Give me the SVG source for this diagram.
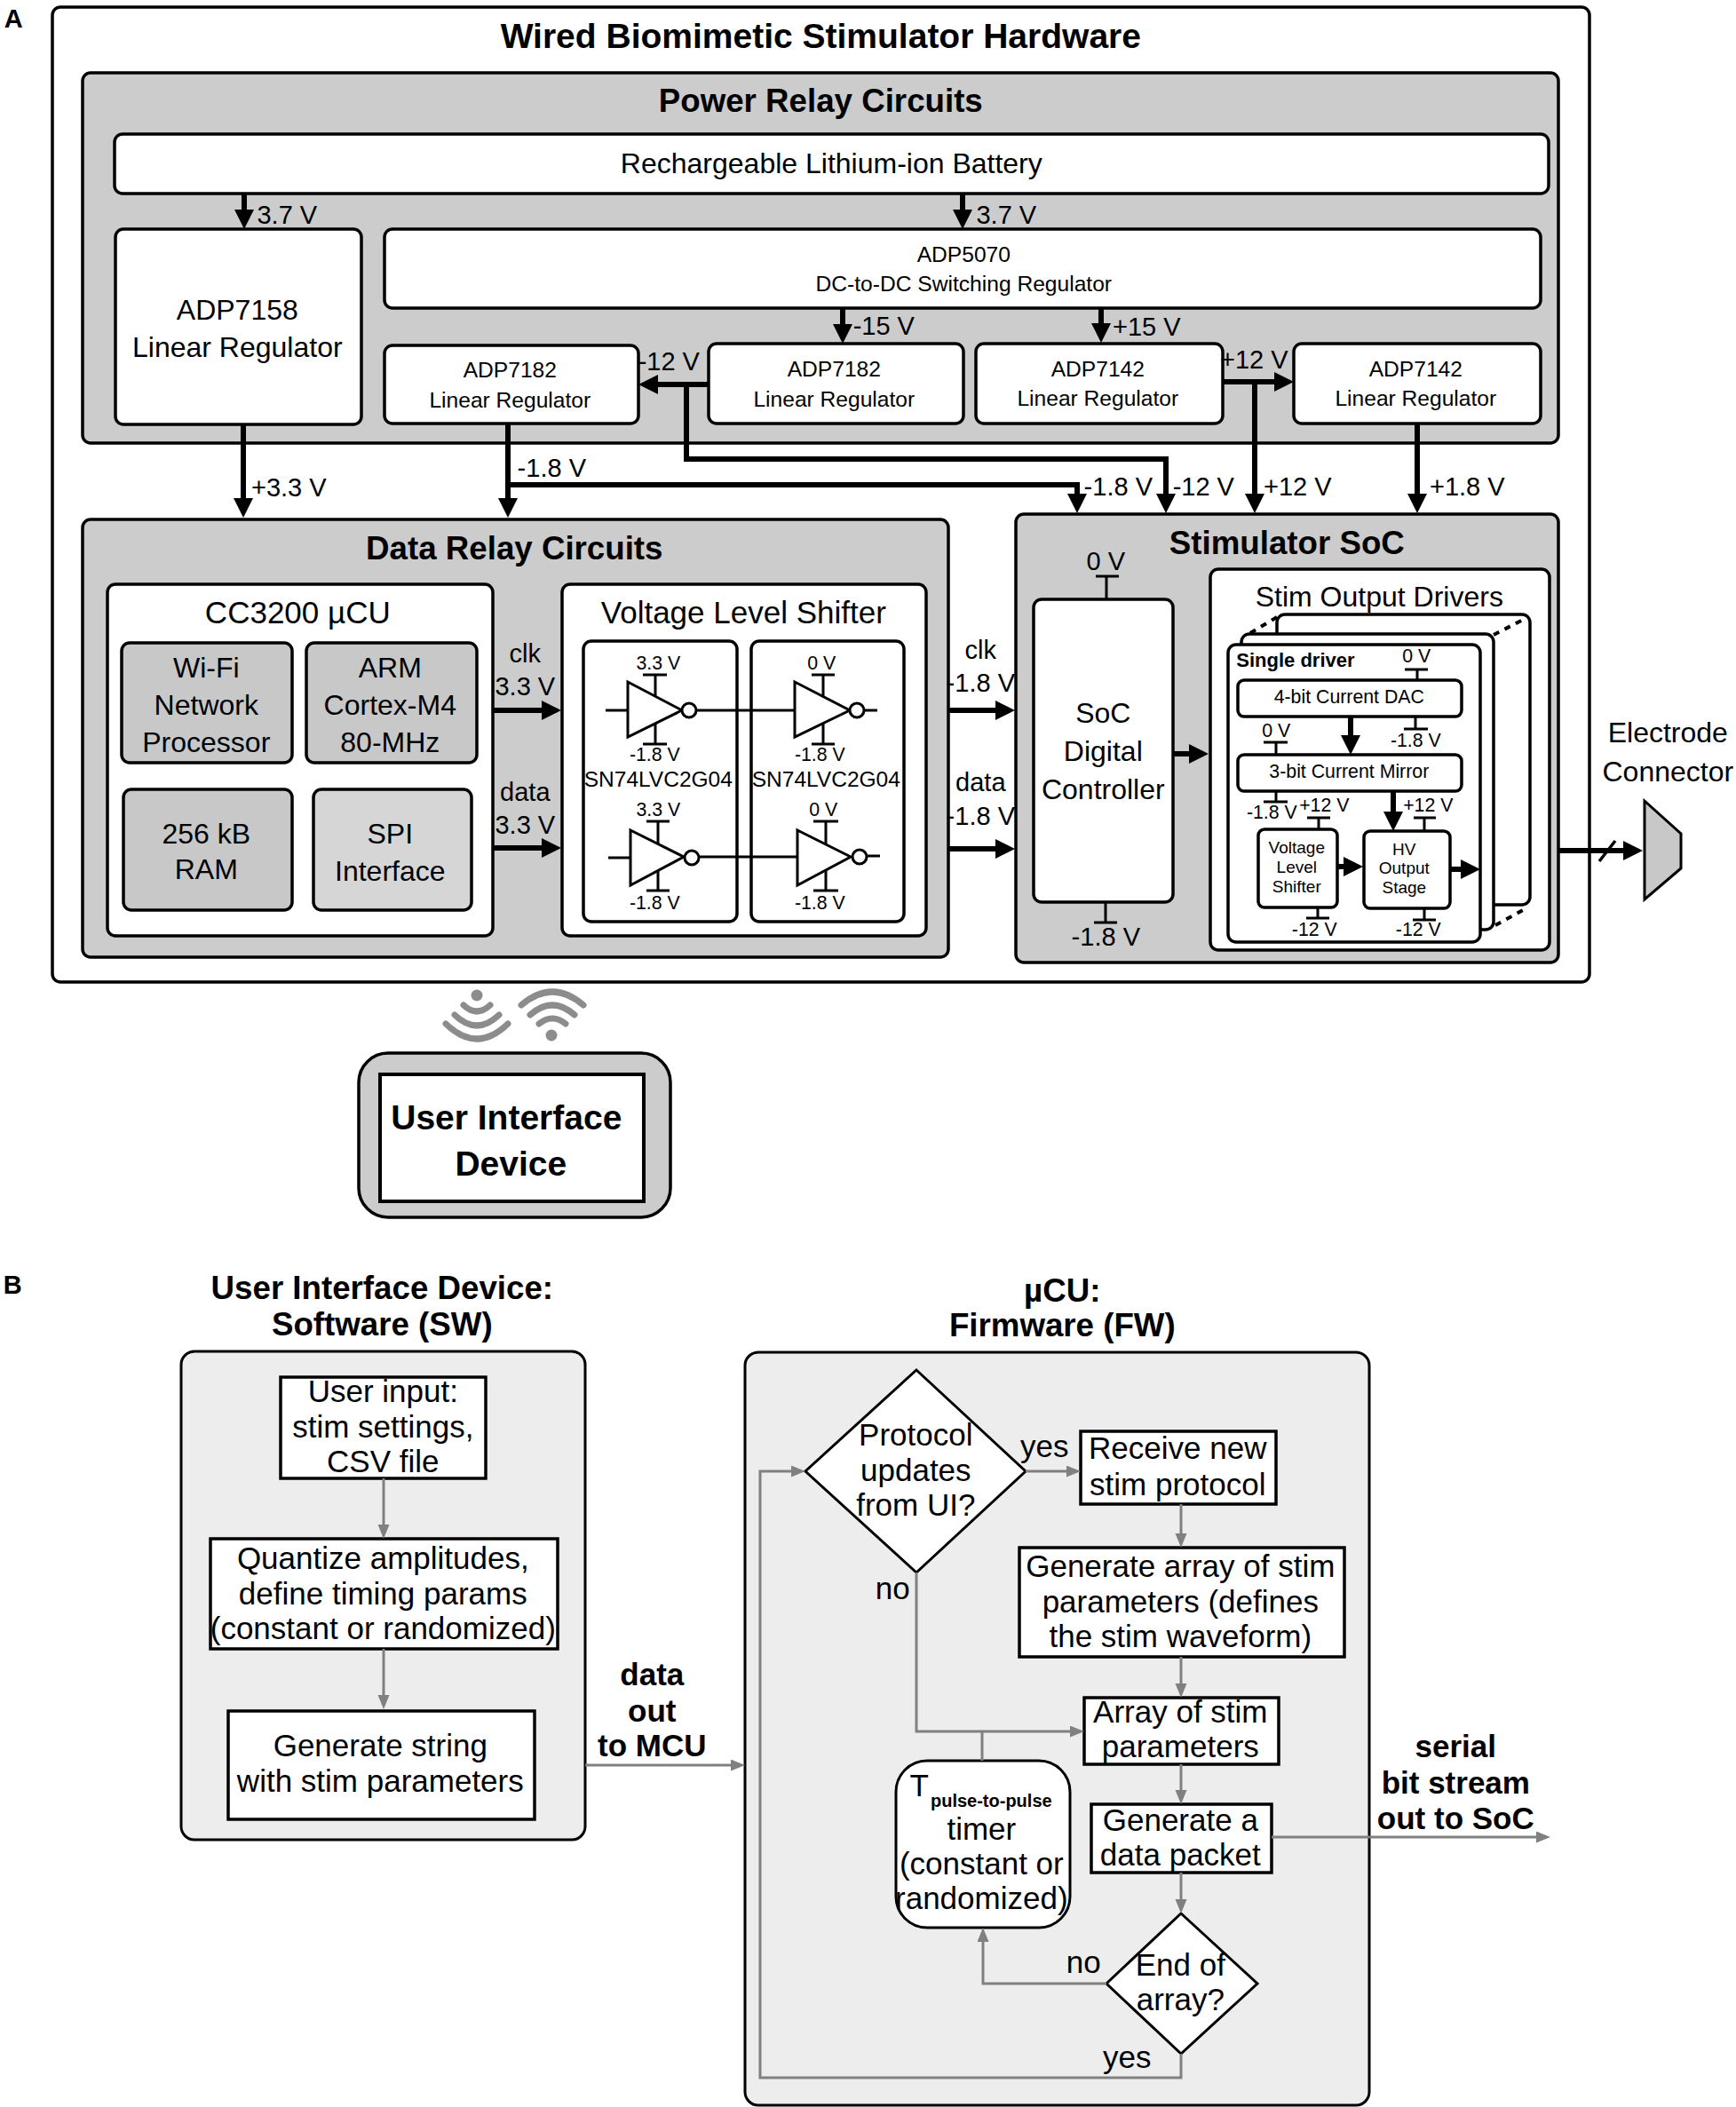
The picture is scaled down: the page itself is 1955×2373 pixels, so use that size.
<svg xmlns="http://www.w3.org/2000/svg" width="1955" height="2373" viewBox="0 0 1955 2373">
<style>
text{font-family:"Liberation Sans",Arial,sans-serif;fill:#000;text-anchor:middle;dominant-baseline:central;transform:translate(-0.7px,-1.5px)}
.b{font-weight:bold}
.box{fill:#fff;stroke:#000;stroke-width:3.5}
.panel{fill:#ccc;stroke:#000;stroke-width:3.5}
.chip{fill:#c8c8c8;stroke:#000;stroke-width:3.5}
.flow{fill:#ededed;stroke:#000;stroke-width:3}
.step{fill:#fff;stroke:#000;stroke-width:3.5}
.pin{fill:none;stroke:#000;stroke-width:3}
.th{fill:none;stroke:#000;stroke-width:6;marker-end:url(#ah)}
.tl{fill:none;stroke:#000;stroke-width:6}
.gr{fill:none;stroke:#808080;stroke-width:3;marker-end:url(#gh)}
.gl{fill:none;stroke:#808080;stroke-width:3}
.wf{fill:none;stroke:#8c8c8c;stroke-width:7;stroke-linecap:round}
.dot{fill:none;stroke:#000;stroke-width:4;stroke-dasharray:7 7}
.f19{font-size:19px}.f21{font-size:21.3px}.f24{font-size:24.5px}.f25{font-size:24.6px}.f29{font-size:29px}.f32{font-size:32px}.f35{font-size:35px}.f37{font-size:36.7px}
</style>
<defs>
<marker id="ah" markerUnits="userSpaceOnUse" markerWidth="24" markerHeight="22" refX="8" refY="11" orient="auto"><path d="M0,0 L22,11 L0,22 z" fill="#000"/></marker>
<marker id="gh" markerUnits="userSpaceOnUse" markerWidth="18" markerHeight="14" refX="8" refY="6.5" orient="auto"><path d="M0,0 L16,6.5 L0,13 z" fill="#808080"/></marker>
</defs>
<rect width="1955" height="2373" fill="#fff"/>
<text class="b f29" x="16" y="22">A</text>
<text class="b f29" x="15" y="1448">B</text>

<g id="hardware"><rect x="59" y="8" width="1731" height="1098" rx="9" fill="#fff" stroke="#000" stroke-width="3.5"/><text class="b" font-size="39" x="925" y="42">Wired Biomimetic Stimulator Hardware</text></g>

<g id="power-relay"><rect class="panel" x="93" y="82" width="1662" height="417" rx="9"/><text class="b f37" x="925" y="115">Power Relay Circuits</text></g>
<g id="battery"><rect class="box" x="129" y="151" width="1615" height="67" rx="9"/><text class="f32" x="937" y="185">Rechargeable Lithium-ion Battery</text></g>
<g id="adp7158"><rect class="box" x="130" y="258" width="277" height="220" rx="9"/><text class="f32" x="268" y="350">ADP7158</text><text class="f32" x="268" y="392">Linear Regulator</text></g>
<g id="adp5070"><rect class="box" x="433" y="258" width="1302" height="89" rx="9"/><text class="f25" x="1086" y="288">ADP5070</text><text class="f25" x="1086" y="321">DC-to-DC Switching Regulator</text></g>
<g id="adp7182-a"><rect class="box" x="433" y="389" width="286" height="88" rx="9"/><text class="f25" x="575" y="418">ADP7182</text><text class="f25" x="575" y="452">Linear Regulator</text></g>
<g id="adp7182-b"><rect class="box" x="798" y="387" width="287" height="90" rx="9"/><text class="f25" x="940" y="417">ADP7182</text><text class="f25" x="940" y="451">Linear Regulator</text></g>
<g id="adp7142-a"><rect class="box" x="1099" y="387" width="278" height="90" rx="9"/><text class="f25" x="1237" y="417">ADP7142</text><text class="f25" x="1237" y="450">Linear Regulator</text></g>
<g id="adp7142-b"><rect class="box" x="1457" y="387" width="278" height="90" rx="9"/><text class="f25" x="1595" y="417">ADP7142</text><text class="f25" x="1595" y="450">Linear Regulator</text></g>

<g id="data-relay"><rect class="panel" x="93" y="585" width="975" height="493" rx="9"/><text class="b f37" x="580" y="619">Data Relay Circuits</text></g>
<g id="cc3200"><rect class="box" x="121" y="658" width="434" height="396" rx="9"/><text font-size="35" x="336" y="691">CC3200 µCU</text></g>
<g id="wifi-proc"><rect class="chip" x="137" y="724" width="192" height="135" rx="9"/><text class="f32" x="233" y="753">Wi-Fi</text><text class="f32" x="233" y="795">Network</text><text class="f32" x="233" y="837">Processor</text></g>
<g id="arm"><rect class="chip" x="345" y="724" width="192" height="135" rx="9"/><text class="f32" x="440" y="753">ARM</text><text class="f32" x="440" y="795">Cortex-M4</text><text class="f32" x="440" y="837">80-MHz</text></g>
<g id="ram"><rect class="chip" x="139" y="889" width="190" height="136" rx="9"/><text class="f32" x="233" y="940">256 kB</text><text class="f32" x="233" y="980">RAM</text></g>
<g id="spi"><rect x="353" y="889" width="178" height="136" rx="9" fill="#d6d6d6" stroke="#000" stroke-width="3.5"/><text class="f32" x="440" y="940">SPI</text><text class="f32" x="440" y="982">Interface</text></g>
<g id="level-shifter"><rect class="box" x="633" y="658" width="410" height="396" rx="9"/><text font-size="35" x="838" y="691">Voltage Level Shifter</text></g>
<g id="shifter-left"><rect class="box" x="657" y="722" width="173" height="316" rx="9"/><text class="f21" x="742" y="748">3.3 V</text><text class="f21" x="738" y="851">-1.8 V</text><text class="f24" x="742" y="879">SN74LVC2G04</text><text class="f21" x="742" y="913">3.3 V</text><text class="f21" x="738" y="1018">-1.8 V</text></g>
<g id="shifter-right"><rect class="box" x="846" y="722" width="172" height="316" rx="9"/><text class="f21" x="926" y="748">0 V</text><text class="f21" x="924" y="851">-1.8 V</text><text class="f24" x="931" y="879">SN74LVC2G04</text><text class="f21" x="928" y="913">0 V</text><text class="f21" x="924" y="1018">-1.8 V</text></g>
<g id="inverters">
<path class="pin" d="M724,760H751M738,760V837M724,838H751M914,760H940M927,760V837M914,838H940M682,800H707M785,800H895M973,800H988"/>
<polygon class="pin" style="fill:#fff" points="707,768 768,800 707,830"/><circle class="pin" style="fill:#fff" cx="776" cy="800" r="8"/>
<polygon class="pin" style="fill:#fff" points="895,768 957,800 895,830"/><circle class="pin" style="fill:#fff" cx="965" cy="800" r="8"/>
<path class="pin" d="M728,925H754M741,925V1002M728,1003H754M916,925H944M930,925V1002M916,1003H944M685,966H710M788,965H898M977,964H991"/>
<polygon class="pin" style="fill:#fff" points="710,935 770,965 710,997"/><circle class="pin" style="fill:#fff" cx="779" cy="966" r="8"/>
<polygon class="pin" style="fill:#fff" points="898,935 958,965 898,997"/><circle class="pin" style="fill:#fff" cx="968" cy="965" r="8"/>
</g>

<g id="stimulator-soc"><rect class="panel" x="1144" y="579" width="611" height="505" rx="9"/><text class="b f37" x="1450" y="613">Stimulator SoC</text></g>
<g id="soc-controller"><rect class="box" x="1164" y="675" width="157" height="341" rx="9"/><text class="f32" x="1243" y="804">SoC</text><text class="f32" x="1243" y="847">Digital</text><text class="f32" x="1243" y="890">Controller</text>
<path class="pin" d="M1234,649H1260M1246,649V675M1232,1039H1258M1245,1016V1039"/><text class="f29" x="1246" y="633">0 V</text><text class="f29" x="1246" y="1056">-1.8 V</text></g>
<g id="output-drivers"><rect class="box" x="1363" y="641" width="382" height="429" rx="9"/><text class="f32" x="1554" y="673">Stim Output Drivers</text>
<rect class="box" x="1438" y="692" width="285" height="327" rx="9"/><rect class="box" x="1398" y="714" width="284" height="333" rx="9"/><rect class="box" x="1383" y="726" width="284" height="335" rx="9"/>
<path class="dot" d="M1408,713L1438,695M1682,715L1717,697M1684,1042L1717,1024"/></g>
<g id="single-driver"><text class="b" font-size="22" x="1393" y="745" style="text-anchor:start">Single driver</text>
<path class="pin" d="M1582,754H1608M1596,754V766M1581,821H1608M1594,807V821M1423,836H1450M1437,836V850M1423,903H1450M1437,891V903M1472,921H1498M1485,921V934M1592,921H1617M1604,921V936M1471,1034H1497M1484,1022V1034M1591,1036H1617M1604,1023V1036"/>
<text class="f21" x="1596" y="740">0 V</text><text class="f21" x="1595" y="835">-1.8 V</text><text class="f21" x="1438" y="824">0 V</text><text class="f21" x="1433" y="916">-1.8 V</text><text class="f21" x="1492" y="908">+12 V</text><text class="f21" x="1609" y="908">+12 V</text><text class="f21" x="1481" y="1048">-12 V</text><text class="f21" x="1598" y="1048">-12 V</text></g>
<g id="current-dac"><rect class="box" x="1394" y="766" width="252" height="41" rx="7"/><text class="f21" x="1520" y="786">4-bit Current DAC</text></g>
<g id="current-mirror"><rect class="box" x="1394" y="850" width="252" height="41" rx="7"/><text class="f21" x="1520" y="870">3-bit Current Mirror</text></g>
<g id="driver-shifter"><rect class="box" x="1417" y="934" width="89" height="88" rx="7"/><text class="f19" x="1461" y="956">Voltage</text><text class="f19" x="1461" y="978">Level</text><text class="f19" x="1461" y="1000">Shifter</text></g>
<g id="hv-stage"><rect class="box" x="1536" y="936" width="97" height="87" rx="7"/><text class="f19" x="1582" y="958">HV</text><text class="f19" x="1582" y="979">Output</text><text class="f19" x="1582" y="1001">Stage</text></g>
<g id="electrode-connector"><polygon points="1852,902 1893,939 1893,978 1852,1013" fill="#c8c8c8" stroke="#000" stroke-width="3"/><text class="f32" x="1879" y="826">Electrode</text><text class="f32" x="1879" y="870">Connector</text></g>

<g id="ui-icons"><circle cx="537" cy="1121" r="6.5" fill="#8c8c8c"/><circle cx="621" cy="1166" r="6.5" fill="#8c8c8c"/>
<path class="wf" d="M522,1132Q537,1146 552,1132M512,1143Q537,1167 562,1143M502,1153Q537,1187 572,1153M607,1153Q622,1141 637,1153M597,1143Q622,1121 647,1143M587,1132Q622,1102 657,1132"/></g>
<g id="ui-device"><rect x="404" y="1186" width="351" height="185" rx="33" fill="#ccc" stroke="#000" stroke-width="3.5"/><rect x="428" y="1210" width="297" height="143" fill="#fff" stroke="#000" stroke-width="4"/><text class="b" font-size="39" x="571" y="1260">User Interface</text><text class="b" font-size="39" x="576" y="1312">Device</text></g>

<g id="sw-panel"><text class="b f37" x="431" y="1452">User Interface Device:</text><text class="b f37" x="431" y="1493">Software (SW)</text><rect class="flow" x="204" y="1522" width="455" height="550" rx="15"/></g>
<g id="sw-input"><rect class="step" x="316" y="1551" width="231" height="114"/><text class="f35" x="432" y="1568">User input:</text><text class="f35" x="432" y="1608">stim settings,</text><text class="f35" x="432" y="1647">CSV file</text></g>
<g id="sw-quantize"><rect class="step" x="237" y="1733" width="391" height="124"/><text class="f35" x="432" y="1756">Quantize amplitudes,</text><text class="f35" x="432" y="1796">define timing params</text><text class="f35" x="432" y="1835">(constant or randomized)</text></g>
<g id="sw-string"><rect class="step" x="257" y="1927" width="345" height="122"/><text class="f35" x="429" y="1967">Generate string</text><text class="f35" x="429" y="2007">with stim parameters</text></g>

<g id="fw-panel"><text class="b f37" x="1197" y="1455">µCU:</text><text class="b f37" x="1197" y="1494">Firmware (FW)</text><rect class="flow" x="839" y="1523" width="703" height="848" rx="15"/></g>
<g id="fw-protocol"><polygon class="step" style="stroke-width:3" points="1032,1543 1155,1657 1032,1771 907,1657"/><text class="f35" x="1032" y="1617">Protocol</text><text class="f35" x="1032" y="1657">updates</text><text class="f35" x="1032" y="1696">from UI?</text></g>
<g id="fw-receive"><rect class="step" x="1217" y="1612" width="220" height="82"/><text class="f35" x="1327" y="1632">Receive new</text><text class="f35" x="1327" y="1673">stim protocol</text></g>
<g id="fw-generate-array"><rect class="step" x="1148" y="1743" width="366" height="123"/><text class="f35" x="1330" y="1765">Generate array of stim</text><text class="f35" x="1330" y="1805">parameters (defines</text><text class="f35" x="1330" y="1844">the stim waveform)</text></g>
<g id="fw-array"><rect class="step" x="1221" y="1912" width="219" height="75"/><text class="f35" x="1330" y="1929">Array of stim</text><text class="f35" x="1330" y="1968">parameters</text></g>
<g id="fw-packet"><rect class="step" x="1229" y="2032" width="203" height="77"/><text class="f35" x="1330" y="2051">Generate a</text><text class="f35" x="1330" y="2090">data packet</text></g>
<g id="fw-timer"><rect class="step" style="stroke-width:3" x="1009" y="1983" width="196" height="188" rx="35"/><text class="f35" x="1036" y="2012">T</text><text class="b" font-size="20" x="1117" y="2029">pulse-to-pulse</text><text class="f35" x="1106" y="2061">timer</text><text class="f35" x="1106" y="2100">(constant or</text><text class="f35" x="1106" y="2139">randomized)</text></g>
<g id="fw-end"><polygon class="step" style="stroke-width:3" points="1330,2155 1416,2234 1330,2313 1246,2234"/><text class="f35" x="1330" y="2214">End of</text><text class="f35" x="1330" y="2253">array?</text></g>

<g id="connectors">
<path class="th" d="M275,218V244"/>
<path class="th" d="M1084,218V244"/>
<path class="th" d="M949,347V373"/>
<path class="th" d="M1240,347V372"/>
<path class="th" d="M798,433H733"/>
<path class="tl" d="M773,433V517H1313V560"/>
<path class="th" d="M1313,517V564"/>
<path class="th" d="M274,478V569"/>
<path class="th" d="M572,477V569"/>
<path class="tl" d="M572,546H1213V560"/>
<path class="th" d="M1213,546V564"/>
<path class="th" d="M1377,430H1443"/>
<path class="th" d="M1413,430V564"/>
<path class="th" d="M1596,477V564"/>
<path class="th" d="M555,800H618"/>
<path class="th" d="M555,955H618"/>
<path class="th" d="M1068,800H1129"/>
<path class="th" d="M1068,956H1129"/>
<path class="th" d="M1321,849H1347"/>
<path class="th" d="M1521,807V836"/>
<path class="th" d="M1569,891V922"/>
<path class="th" d="M1506,976H1521"/>
<path class="th" d="M1633,979H1653"/>
<path class="th" d="M1755,958H1836"/>
<path class="pin" style="stroke-width:3.5" d="M1801,970L1819,947"/>
<path class="gr" d="M432,1665V1725"/>
<path class="gr" d="M432,1857V1917"/>
<path class="gr" d="M659,1988H831"/>
<path class="gr" d="M1155,1657H1209"/>
<path class="gr" d="M1330,1694V1735"/>
<path class="gr" d="M1330,1866V1904"/>
<path class="gr" d="M1330,1987V2024"/>
<path class="gr" d="M1330,2109V2147"/>
<path class="gr" d="M1032,1771V1950H1213"/>
<path class="gl" d="M1106,1983V1950"/>
<path class="gr" d="M1246,2234H1107V2179"/>
<path class="gr" d="M1330,2313V2340H856V1657H899"/>
<path class="gr" d="M1432,2069H1738"/>
</g>
<g id="connector-labels">
<text class="f29" x="324" y="243">3.7 V</text><text class="f29" x="1134" y="243">3.7 V</text>
<text class="f29" x="996" y="368">-15 V</text><text class="f29" x="1292" y="369">+15 V</text>
<text class="f29" x="754" y="408">-12 V</text><text class="f29" x="1413" y="406">+12 V</text>
<text class="f29" x="622" y="528">-1.8 V</text><text class="f29" x="326" y="550">+3.3 V</text>
<text class="f29" x="1260" y="549">-1.8 V</text><text class="f29" x="1356" y="549">-12 V</text><text class="f29" x="1462" y="549">+12 V</text><text class="f29" x="1653" y="549">+1.8 V</text>
<text class="f29" x="592" y="737">clk</text><text class="f29" x="592" y="774">3.3 V</text><text class="f29" x="592" y="893">data</text><text class="f29" x="592" y="930">3.3 V</text>
<text class="f29" x="1105" y="733">clk</text><text class="f29" x="1105" y="770">-1.8 V</text><text class="f29" x="1105" y="882">data</text><text class="f29" x="1105" y="920">-1.8 V</text>
<text class="b f35" x="735" y="1887">data</text><text class="b f35" x="735" y="1928">out</text><text class="b f35" x="735" y="1967">to MCU</text>
<text class="b f35" x="1640" y="1968">serial</text><text class="b f35" x="1640" y="2009">bit stream</text><text class="b f35" x="1640" y="2049">out to SoC</text>
<text class="f35" x="1177" y="1630">yes</text><text class="f35" x="1006" y="1790">no</text><text class="f35" x="1221" y="2211">no</text><text class="f35" x="1270" y="2318">yes</text>
</g>
</svg>
